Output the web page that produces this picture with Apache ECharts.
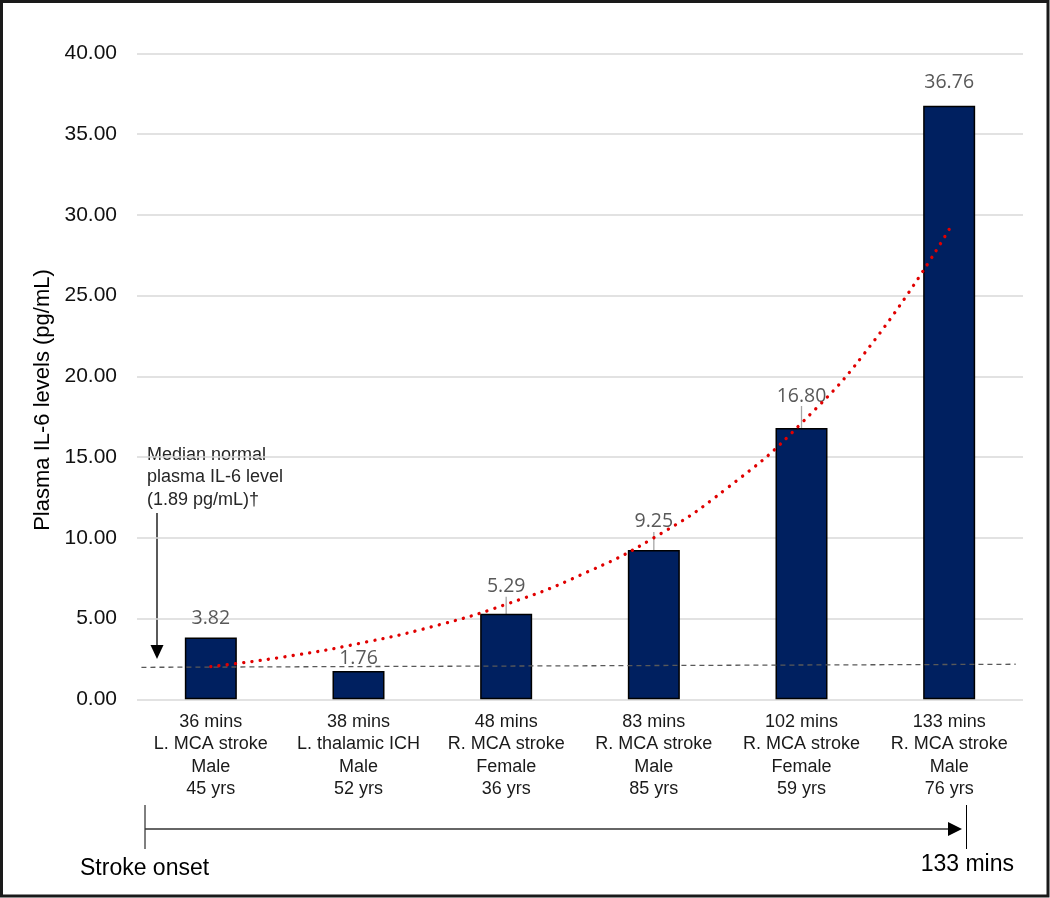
<!DOCTYPE html>
<html>
<head>
<meta charset="utf-8">
<script src="https://cdn.jsdelivr.net/npm/echarts@6/dist/echarts.min.js"></script>
<style>html,body{margin:0;padding:0;background:#fff}#c{width:1050px;height:898px}</style>
</head>
<body>
<div id="c"></div>
<script>
// ---- data ----
var onsetTimes = ['36 mins', '38 mins', '48 mins', '83 mins', '102 mins', '133 mins'];
var strokeTypes = ['L. MCA stroke', 'L. thalamic ICH', 'R. MCA stroke', 'R. MCA stroke', 'R. MCA stroke', 'R. MCA stroke'];
var sexes = ['Male', 'Male', 'Female', 'Male', 'Female', 'Male'];
var ages = ['45 yrs', '52 yrs', '36 yrs', '85 yrs', '59 yrs', '76 yrs'];
var il6Values = [3.82, 1.76, 5.29, 9.25, 16.80, 36.76];
var yTicks = [0, 5, 10, 15, 20, 25, 30, 35, 40];
// exponential trend line (x in category units, 0.5 = centre of first bar)
var trendX = [0.5, 1.0, 1.5, 2.0, 2.5, 3.0, 3.5, 4.0, 4.5, 5.0, 5.5];
var trendY = [2.02, 2.63, 3.45, 4.5, 5.88, 7.68, 10.0, 13.1, 17.1, 22.3, 29.1];
// median normal level guide line (drawn slightly sloped in the source)
var normalX = [0.03, 5.95];
var normalY = [1.98, 2.17];

// ---- build ----
var categories = onsetTimes.map(function (t, i) {
  return t + '\n' + strokeTypes[i] + '\n' + sexes[i] + '\n' + ages[i];
});
var labelLift = [0, 0, 13, 14, 18, 0];
var labelDist = [9, 2, 4, 4, 4, 13];
var hasLeader = [false, false, true, true, true, false];

var chart = echarts.init(document.getElementById('c'));
var GL = 137, GR = 1023, GT = 53.3, GB = 699.3;
var ARIAL = 'Arial, "Liberation Sans"';

chart.setOption({
  animation: false,
  grid: { left: GL, right: 1050 - GR, top: GT, bottom: 898 - GB, containLabel: false },
  xAxis: [{
    type: 'category',
    data: categories,
    axisLine: { show: false },
    axisTick: { show: false },
    axisLabel: { color: '#1a1a1a', fontFamily: ARIAL, fontSize: 18, lineHeight: 22.5, margin: 11, interval: 0 }
  }, {
    type: 'value', min: 0, max: 6, show: false
  }],
  yAxis: {
    type: 'value', min: yTicks[0], max: yTicks[yTicks.length - 1], interval: 5,
    axisLine: { show: false }, axisTick: { show: false },
    axisLabel: { formatter: function (v) { return v.toFixed(2); }, color: '#111', fontFamily: ARIAL, fontSize: 21, margin: 20 },
    splitLine: { lineStyle: { color: '#d9d9d9', width: 1.6 } }
  },
  series: [{
    type: 'bar',
    data: il6Values.map(function (v, i) {
      return { value: v, label: { distance: labelDist[i] }, labelLine: { show: hasLeader[i] } };
    }),
    barWidth: 52,
    itemStyle: { color: '#002060', borderColor: '#000', borderWidth: 1.5 },
    label: {
      show: true, position: 'top', color: '#595959', fontSize: 19.5,
      fontFamily: '"Open Sans", "Noto Sans", sans-serif',
      formatter: function (p) { return p.value.toFixed(2); }
    },
    labelLayout: function (p) { return { dy: -labelLift[p.dataIndex] }; },
    labelLine: { show: true, lineStyle: { color: '#a6a6a6', width: 1.3 } },
    z: 2
  }, {
    type: 'line',
    xAxisIndex: 1,
    data: normalX.map(function (x, i) { return [x, normalY[i]]; }),
    symbol: 'none',
    lineStyle: { color: '#595959', width: 1.3, type: [5, 4] },
    z: 3
  }, {
    type: 'line',
    xAxisIndex: 1,
    smooth: true,
    data: trendX.map(function (x, i) { return [x, trendY[i]]; }),
    symbol: 'none',
    lineStyle: { color: '#e00000', width: 3.3, type: [0.1, 8.2], cap: 'round' },
    z: 4
  }],
  graphic: [
    { type: 'rect', shape: { x: 1.5, y: 1.5, width: 1046.5, height: 894.5 }, style: { fill: 'none', stroke: '#1a1a1a', lineWidth: 3 }, silent: true },
    { type: 'text', x: 43, y: 400, rotation: Math.PI / 2, style: { text: 'Plasma IL-6 levels (pg/mL)', font: '22px ' + ARIAL, fill: '#000', align: 'center', verticalAlign: 'middle' } },
    { type: 'text', x: 147, y: 444, style: { text: 'Median normal\nplasma IL-6 level\n(1.89 pg/mL)\u2020', font: '18px ' + ARIAL, lineHeight: 22.3, fill: '#262626', align: 'left', verticalAlign: 'top' } },
    { type: 'line', shape: { x1: 157, y1: 513, x2: 157, y2: 646 }, style: { stroke: '#000', lineWidth: 1.3 } },
    { type: 'polygon', shape: { points: [[150.5, 645], [163.5, 645], [157, 659]] }, style: { fill: '#000' } },
    { type: 'line', shape: { x1: 145, y1: 805, x2: 145, y2: 849 }, style: { stroke: '#000', lineWidth: 1 } },
    { type: 'line', shape: { x1: 966.5, y1: 805, x2: 966.5, y2: 849 }, style: { stroke: '#000', lineWidth: 1 } },
    { type: 'line', shape: { x1: 145, y1: 829, x2: 950, y2: 829 }, style: { stroke: '#333', lineWidth: 1.3 } },
    { type: 'polygon', shape: { points: [[948, 822], [948, 836], [962, 829]] }, style: { fill: '#000' } },
    { type: 'text', x: 80, y: 869, style: { text: 'Stroke onset', font: '23px ' + ARIAL, fill: '#000', align: 'left', verticalAlign: 'middle' } },
    { type: 'text', x: 1014, y: 865, style: { text: '133 mins', font: '23px ' + ARIAL, fill: '#000', align: 'right', verticalAlign: 'middle' } }
  ]
});
</script>
</body>
</html>
